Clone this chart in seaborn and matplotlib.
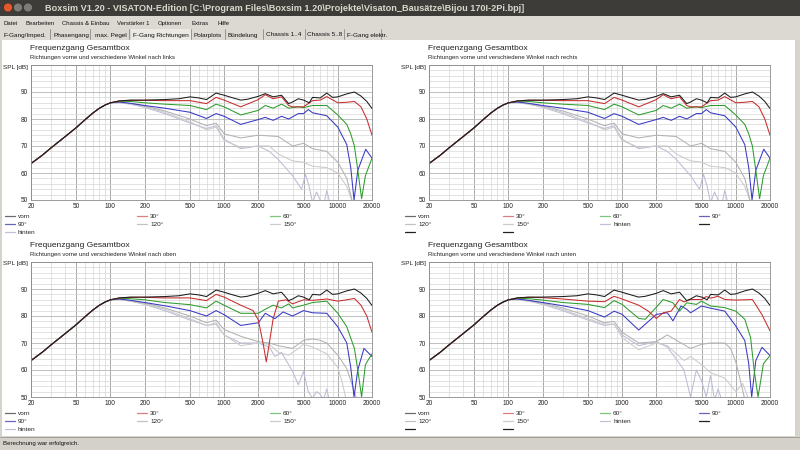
"""Boxsim screenshot: Frequenzgang Gesamtbox in vier Richtungen (links, rechts, oben, unten)."""

import matplotlib

matplotlib.use("Agg")

import matplotlib.pyplot as plt
import pandas as pd
import seaborn as sns
from matplotlib.lines import Line2D
from matplotlib.patches import Ellipse, Rectangle

W, H = 800, 450

ANGLES = ["vorn", "30°", "60°", "90°", "120°", "150°", "hinten"]
CURVE_COLORS = ["#1c1c1c", "#c82c2c", "#2c9c2c", "#3838c4", "#b2b2b2", "#cbcbcb", "#bcbcd6"]
LEGEND_COLORS = ["#6a6a6a", "#e07c7c", "#7cc67c", "#6666b8", "#c2c2c2", "#cccccc", "#c0c0d8"]

X_TICKS = [20, 50, 100, 200, 500, 1000, 2000, 5000, 10000, 20000]
X_MINOR = [30, 40, 60, 70, 80, 90, 300, 400, 600, 700, 800, 900,
           3000, 4000, 6000, 7000, 8000, 9000]
Y_TICKS = [50, 60, 70, 80, 90, 100]

# gemeinsamer Anstieg (alle Kurven gleich bis 100 Hz)
RISE_F = [20, 25, 30, 40, 50, 60, 70, 80, 90, 100]
RISE_DB = [63.5, 66.5, 69.3, 73.5, 76.8, 79.8, 82.2, 84.0, 85.2, 86.0]

# vorn (in allen Diagrammen gleich)
VORN_F = [120, 150, 200, 300, 400, 500, 600, 700, 850, 1000, 1200, 1400, 1600, 2000, 2300, 2700,
          3200, 3700, 4000, 4500, 5000, 5600, 6000, 7000, 8000, 9000, 10000, 12000, 14000, 16000,
          18000, 20000]
VORN_DB = [86.7, 87.0, 87.0, 87.2, 87.5, 88.2, 87.8, 87.2, 89.6, 88.8, 87.8, 87.0, 87.3, 88.4, 89.4,
           88.2, 88.8, 85.7, 86.3, 87.5, 87.0, 86.0, 88.0, 87.8, 89.6, 88.0, 88.2, 89.3, 90.0, 88.5,
           86.5, 83.9]

# nach links / nach rechts
LINKS_30_F = [120, 150, 200, 300, 500, 700, 850, 1000, 1400, 2000, 2300, 2700, 3200, 3700, 4000,
              5000, 6000, 7000, 8000, 10000, 12000, 14000, 16000, 18000, 20000]
LINKS_30_DB = [86.7, 86.9, 86.9, 86.8, 86.8, 85.7, 88.0, 87.0, 84.5, 87.2, 89.0, 87.5, 88.2, 85.0,
               84.5, 84.5, 86.8, 87.0, 88.3, 86.0, 86.2, 86.5, 84.5, 80.0, 74.0]
LINKS_60_F = [120, 150, 200, 300, 500, 700, 850, 1000, 1400, 2000, 2300, 2700, 3200, 3700, 4500,
              5000, 6000, 8000, 10000, 12000, 13000, 14000, 15000, 16200, 17500, 20000]
LINKS_60_DB = [86.6, 86.5, 86.0, 85.5, 85.0, 83.5, 85.5, 84.5, 81.5, 83.2, 85.0, 84.0, 85.5, 84.0,
               84.5, 84.2, 85.0, 85.0, 81.5, 78.0, 74.5, 70.0, 61.0, 50.5, 59.0, 65.5]
LINKS_90_F = [120, 150, 200, 300, 500, 700, 850, 1000, 1400, 2000, 2300, 2700, 3200, 3700, 4500,
              5000, 5500, 6000, 8000, 10000, 12000, 13000, 13900, 15000, 17600, 20000]
LINKS_90_DB = [86.3, 85.8, 85.0, 84.0, 82.5, 80.2, 82.0, 81.0, 78.0, 79.8, 80.6, 79.5, 81.0, 80.0,
               82.0, 82.0, 83.5, 82.3, 81.2, 77.0, 70.5, 62.0, 50.0, 61.0, 68.8, 65.5]
LINKS_120_F = [120, 150, 200, 300, 500, 700, 850, 1000, 1400, 2000, 3000, 4000, 5000, 6000, 8000,
               10000, 12000, 13500]
LINKS_120_DB = [86.2, 85.8, 84.8, 83.0, 80.0, 77.5, 78.5, 74.5, 73.0, 74.0, 73.5, 70.0, 71.0, 69.0,
                68.0, 64.0, 58.0, 49.0]
LINKS_150_F = [120, 150, 200, 300, 500, 700, 850, 1000, 1400, 2000, 2500, 3000, 4000, 5000, 6000,
               8000, 10000, 12000, 13500]
LINKS_150_DB = [86.1, 85.6, 84.5, 82.5, 79.0, 76.0, 77.0, 72.0, 69.5, 70.0, 70.0, 67.0, 64.5, 64.0,
                62.5, 62.0, 60.0, 55.0, 49.0]
LINKS_HINTEN_F = [120, 150, 200, 300, 500, 700, 850, 1000, 1400, 2000, 2500, 3000, 4000, 4800,
                  5200, 5600, 6000, 6500, 7000, 7500, 8000, 8500, 9000]
LINKS_HINTEN_DB = [86.0, 85.5, 84.3, 82.0, 78.5, 76.5, 77.5, 72.5, 69.0, 70.0, 68.0, 65.0, 59.0,
                   54.0, 59.5, 55.0, 49.0, 53.0, 50.0, 48.0, 53.5, 49.0, 45.0]

# nach oben
OBEN_30_F = [120, 150, 200, 300, 500, 700, 850, 1000, 1400, 1800, 2000, 2200, 2350, 2500, 2700,
             3000, 3500, 4000, 5000, 6000, 8000, 10000, 12000, 14000, 16000, 18000, 20000]
OBEN_30_DB = [86.7, 86.9, 86.9, 86.7, 86.7, 85.7, 88.0, 87.0, 84.0, 82.0, 78.5, 70.0, 63.0, 70.0,
              79.0, 85.5, 86.0, 84.5, 86.0, 85.8, 86.3, 85.5, 86.0, 86.5, 84.0, 80.0, 74.0]
OBEN_60_F = [120, 150, 200, 300, 500, 700, 850, 1000, 1400, 2000, 2300, 2700, 3200, 3700, 4000,
             5000, 6000, 8000, 10000, 12000, 14000, 15000, 16200, 17500, 20000]
OBEN_60_DB = [86.6, 86.4, 86.0, 85.0, 84.2, 83.0, 85.5, 84.0, 81.0, 81.0, 82.5, 84.0, 83.0, 84.5,
              83.0, 84.0, 85.0, 85.5, 81.0, 76.0, 68.0, 60.0, 50.0, 62.0, 66.0]
OBEN_90_F = [120, 150, 200, 300, 500, 700, 850, 1000, 1400, 2000, 2300, 2800, 3300, 4000, 5000,
             6000, 8000, 10000, 12000, 13000, 13900, 15000, 17000, 20000]
OBEN_90_DB = [86.3, 85.8, 85.0, 83.8, 82.0, 80.0, 82.0, 80.5, 76.5, 77.5, 81.0, 79.0, 81.5, 80.0,
              82.0, 81.2, 81.0, 76.0, 70.0, 61.0, 50.0, 60.0, 68.0, 65.0]
OBEN_120_F = [120, 150, 200, 300, 500, 700, 850, 1000, 1400, 2000, 2500, 3000, 4000, 5000, 6000,
              7000, 8000, 10000, 12000, 13500, 15000]
OBEN_120_DB = [86.2, 85.8, 84.8, 83.0, 80.0, 77.5, 78.5, 75.0, 72.5, 70.5, 70.0, 69.0, 68.0, 71.0,
               71.5, 71.0, 70.0, 65.5, 60.5, 54.0, 48.0]
OBEN_150_F = [120, 150, 200, 300, 500, 700, 850, 1000, 1400, 2000, 2500, 3000, 3700, 4500, 5000,
              6000, 8000, 10000, 11000, 12000]
OBEN_150_DB = [86.1, 85.6, 84.5, 82.5, 79.0, 76.5, 77.5, 73.0, 69.0, 70.0, 69.5, 66.5, 65.5, 68.0,
               69.5, 68.5, 66.0, 61.0, 55.0, 48.0]
OBEN_HINTEN_F = [120, 150, 200, 300, 500, 700, 850, 1000, 1400, 2000, 2500, 2800, 3200, 4000,
                 4500, 5000, 5500, 6000, 6500, 7000, 7500, 8000, 8500]
OBEN_HINTEN_DB = [86.0, 85.5, 84.3, 82.0, 78.5, 76.5, 77.0, 73.0, 70.0, 70.0, 68.5, 65.0, 66.5,
                  59.5, 54.5, 59.5, 52.0, 49.5, 52.0, 51.0, 49.0, 53.0, 48.0]

# nach unten
UNTEN_30_F = [120, 150, 200, 300, 500, 700, 850, 1000, 1400, 1700, 2000, 2300, 2700, 3200, 3500,
              4000, 5000, 5500, 6000, 7000, 8000, 10000, 14000, 17000, 20000]
UNTEN_30_DB = [86.7, 86.9, 86.8, 86.3, 85.5, 85.3, 87.3, 86.3, 84.0, 81.8, 79.1, 81.2, 81.8, 86.1,
               85.2, 86.1, 86.1, 87.2, 86.6, 87.3, 86.1, 85.9, 86.1, 80.5, 74.5]
UNTEN_60_F = [120, 150, 200, 300, 500, 700, 850, 1000, 1400, 1600, 2000, 2300, 2800, 3200, 3700,
              4500, 5000, 6000, 8000, 10000, 12000, 13500, 14500, 15700, 17500, 20000]
UNTEN_60_DB = [86.6, 86.4, 85.9, 85.0, 84.3, 83.1, 85.7, 84.3, 79.1, 78.8, 83.3, 86.1, 84.9, 81.8,
               84.9, 84.3, 85.5, 83.7, 83.1, 81.8, 78.8, 72.0, 60.0, 50.0, 62.3, 65.4]
UNTEN_90_F = [120, 150, 200, 300, 500, 700, 850, 1000, 1400, 2000, 2500, 2800, 3300, 3700, 4000,
              5000, 6000, 8000, 10000, 12000, 13000, 13800, 15000, 17000, 20000]
UNTEN_90_DB = [86.3, 85.8, 85.0, 83.8, 82.0, 79.6, 81.8, 80.6, 74.8, 80.6, 81.2, 78.2, 83.7, 82.5,
               81.2, 83.7, 82.9, 81.8, 76.3, 70.9, 62.3, 50.0, 63.5, 68.4, 65.4]
UNTEN_120_F = [120, 150, 200, 300, 500, 700, 850, 1000, 1400, 2000, 2500, 3000, 4000, 5000, 6000,
               8000, 9000, 10000, 11000, 12000]
UNTEN_120_DB = [86.2, 85.8, 84.8, 83.0, 80.0, 77.5, 78.0, 74.0, 70.0, 70.5, 73.0, 71.0, 68.0, 69.5,
                70.0, 70.0, 68.0, 63.0, 56.0, 49.0]
UNTEN_150_F = [120, 150, 200, 300, 500, 700, 850, 1000, 1400, 2000, 2500, 3000, 3500, 4000, 5000,
               6000, 8000, 10000, 11500, 13000]
UNTEN_150_DB = [86.1, 85.6, 84.5, 82.5, 79.0, 77.0, 77.0, 72.0, 67.5, 70.0, 69.0, 66.0, 63.5, 65.0,
                62.0, 59.0, 57.0, 52.0, 55.0, 49.0]
UNTEN_HINTEN_F = [120, 150, 200, 300, 500, 700, 850, 1000, 1400, 2000, 2500, 3000, 3500, 4000,
                  4500, 5000, 5500, 6000, 6500, 7000, 7500]
UNTEN_HINTEN_DB = [86.0, 85.5, 84.3, 82.0, 78.5, 76.5, 77.0, 73.0, 69.0, 70.5, 68.5, 64.0, 60.0,
                   50.0, 60.0, 56.0, 50.0, 58.0, 49.0, 53.0, 49.0]

TITLE = r"Boxsim V1.20 - VISATON-Edition [C:\Program Files\Boxsim 1.20\Projekte\Visaton_Bausätze\Bijou 170I-2Pi.bpj]"
MENU = [("Datei", 3), ("Bearbeiten", 25), ("Chassis & Einbau", 62), ("Verstärker 1", 117),
        ("Optionen", 158), ("Extras", 191), ("Hilfe", 217)]
TABS = [("F-Gang/Imped.", 3), ("Phasengang", 54), ("max. Pegel", 95), ("F-Gang Richtungen", 133),
        ("Polarplots", 194), ("Bündelung", 228), ("Chassis 1..4", 266), ("Chassis 5..8", 307),
        ("F-Gang elektr.", 347)]


def fx(x):
    return x / W


def fy(y):
    return 1 - y / H


def rect(fig, x0, y0, x1, y1, color):
    fig.add_artist(Rectangle((fx(x0), fy(y1)), fx(x1 - x0), (y1 - y0) / H, zorder=-10,
                             transform=fig.transFigure, facecolor=color, edgecolor="none"))


def label(fig, x, y, s, size, **kw):
    kw.setdefault("color", "#222222")
    fig.text(fx(x), fy(y), s, fontsize=size, va="center_baseline", **kw)


def panel_frame(curves):
    parts = []
    for name, (f, db) in zip(ANGLES, curves):
        parts.append(pd.DataFrame({"f": RISE_F + f, "spl": RISE_DB + db, "winkel": name}))
    return pd.concat(parts, ignore_index=True)


def draw_panel(fig, x0, y0, x1, y1, subtitle, curves, legend_cols, legend_rows, legend_y):
    ax = fig.add_axes([fx(x0), fy(y1), fx(x1 - x0), (y1 - y0) / H])
    ax.set_facecolor("white")
    df = panel_frame(curves)
    sns.lineplot(data=df, x="f", y="spl", hue="winkel", hue_order=ANGLES[::-1],
                 palette=dict(zip(ANGLES, CURVE_COLORS)), estimator=None, sort=False,
                 legend=False, linewidth=0.75, ax=ax)
    ax.set_xscale("log")
    ax.set_xlim(20, 20000)
    ax.set_ylim(50, 100)
    ax.set_xticks(X_TICKS)
    ax.set_xticklabels([str(t) for t in X_TICKS])
    ax.set_xticks(X_MINOR, minor=True)
    ax.set_xticklabels([], minor=True)
    ax.set_yticks(Y_TICKS)
    ax.set_yticklabels([str(t) if t < 100 else "" for t in Y_TICKS])
    ax.set_yticks(range(50, 101, 2), minor=True)
    ax.grid(which="major", axis="x", color="#9a9a9a", linewidth=0.6)
    ax.grid(which="major", axis="y", color="#b4b4b4", linewidth=0.6)
    ax.grid(which="minor", color="#d6d6d6", linewidth=0.5)
    ax.set_axisbelow(True)
    ax.tick_params(which="both", length=0, labelsize=4.7, pad=2.5, colors="#222222")
    ax.set_xlabel("")
    ax.set_ylabel("")
    for s in ax.spines.values():
        s.set_color("#8a8a8a")
        s.set_linewidth(0.6)

    label(fig, x0 - 1, y0 - 17, "Frequenzgang Gesamtbox", 6)
    label(fig, x0 - 1, y0 - 8, subtitle, 4.3)
    label(fig, x0 - 28, y0 + 1.5, "SPL [dB]", 4.6)

    colors = dict(zip(ANGLES, LEGEND_COLORS))
    for r, row in enumerate(legend_rows):
        yy = legend_y + r * 7.8
        for c, name in enumerate(row):
            lx = legend_cols[c]
            color = colors.get(name, "#202020")
            fig.add_artist(Line2D([fx(lx), fx(lx + 10)], [fy(yy), fy(yy)], color=color,
                                  linewidth=0.9, transform=fig.transFigure))
            if name:
                label(fig, lx + 13, yy, name, 4.6)
    return ax


def main():
    sns.set_style("white")
    plt.rcParams["font.family"] = ["Liberation Sans", "DejaVu Sans"]

    fig = plt.figure(figsize=(W / 100, H / 100), dpi=100)
    fig.patch.set_facecolor("#d6d3cc")

    # Fensterrahmen
    rect(fig, 0, 0, W, 16, "#3d3c38")
    for i, col in enumerate(["#e2582c", "#7d7c77", "#7d7c77"]):
        fig.add_artist(Ellipse((fx(8 + 10 * i), fy(7.5)), 9 / W, 9 / H, transform=fig.transFigure,
                               facecolor=col, edgecolor="#2a2926", linewidth=0.4))
    label(fig, 45, 7.8, TITLE, 6.6, fontweight="bold", color="#dcd8cf")

    rect(fig, 0, 16, W, 40, "#dcd9d3")
    for name, x in MENU:
        label(fig, x, 23, name, 4.3, color="#111111")
    rect(fig, 131, 29, 191, 40, "#ebe9e4")
    for name, x in TABS:
        label(fig, x, 34.5, name, 4.6, color="#111111")
    for x in [50, 90, 129, 191, 225, 263, 305, 344, 381]:
        fig.add_artist(Line2D([fx(x), fx(x)], [fy(29), fy(39)], color="#7a7a7a", linewidth=0.5,
                              transform=fig.transFigure))

    rect(fig, 2, 40, 795, 436, "#ffffff")
    rect(fig, 0, 437, W, H, "#d4d1ca")
    fig.add_artist(Line2D([0, 1], [fy(436.5), fy(436.5)], color="#9a9890", linewidth=0.6,
                          transform=fig.transFigure))
    label(fig, 3, 443.5, "Berechnung war erfolgreich.", 4.4, color="#111111")

    links = [(VORN_F, VORN_DB), (LINKS_30_F, LINKS_30_DB), (LINKS_60_F, LINKS_60_DB),
             (LINKS_90_F, LINKS_90_DB), (LINKS_120_F, LINKS_120_DB), (LINKS_150_F, LINKS_150_DB),
             (LINKS_HINTEN_F, LINKS_HINTEN_DB)]
    oben = [(VORN_F, VORN_DB), (OBEN_30_F, OBEN_30_DB), (OBEN_60_F, OBEN_60_DB),
            (OBEN_90_F, OBEN_90_DB), (OBEN_120_F, OBEN_120_DB), (OBEN_150_F, OBEN_150_DB),
            (OBEN_HINTEN_F, OBEN_HINTEN_DB)]
    unten = [(VORN_F, VORN_DB), (UNTEN_30_F, UNTEN_30_DB), (UNTEN_60_F, UNTEN_60_DB),
             (UNTEN_90_F, UNTEN_90_DB), (UNTEN_120_F, UNTEN_120_DB), (UNTEN_150_F, UNTEN_150_DB),
             (UNTEN_HINTEN_F, UNTEN_HINTEN_DB)]

    left_rows = [["vorn", "30°", "60°"], ["90°", "120°", "150°"], ["hinten"]]
    right_rows = [["vorn", "30°", "60°", "90°"], ["120°", "150°", "hinten", ""], ["", ""]]
    left_cols = [5, 137, 270]
    right_cols = [405, 503, 600, 699]

    draw_panel(fig, 31, 65, 372, 200, "Richtungen vorne und verschiedene Winkel nach links",
               links, left_cols, left_rows, 216)
    draw_panel(fig, 429, 65, 770, 200, "Richtungen vorne und verschiedene Winkel nach rechts",
               links, right_cols, right_rows, 216)
    draw_panel(fig, 31, 262, 372, 397, "Richtungen vorne und verschiedene Winkel nach oben",
               oben, left_cols, left_rows, 413)
    draw_panel(fig, 429, 262, 770, 397, "Richtungen vorne und verschiedene Winkel nach unten",
               unten, right_cols, right_rows, 413)

    fig.savefig("out.png", dpi=100, facecolor=fig.get_facecolor())
    plt.close(fig)


if __name__ == "__main__":
    main()
